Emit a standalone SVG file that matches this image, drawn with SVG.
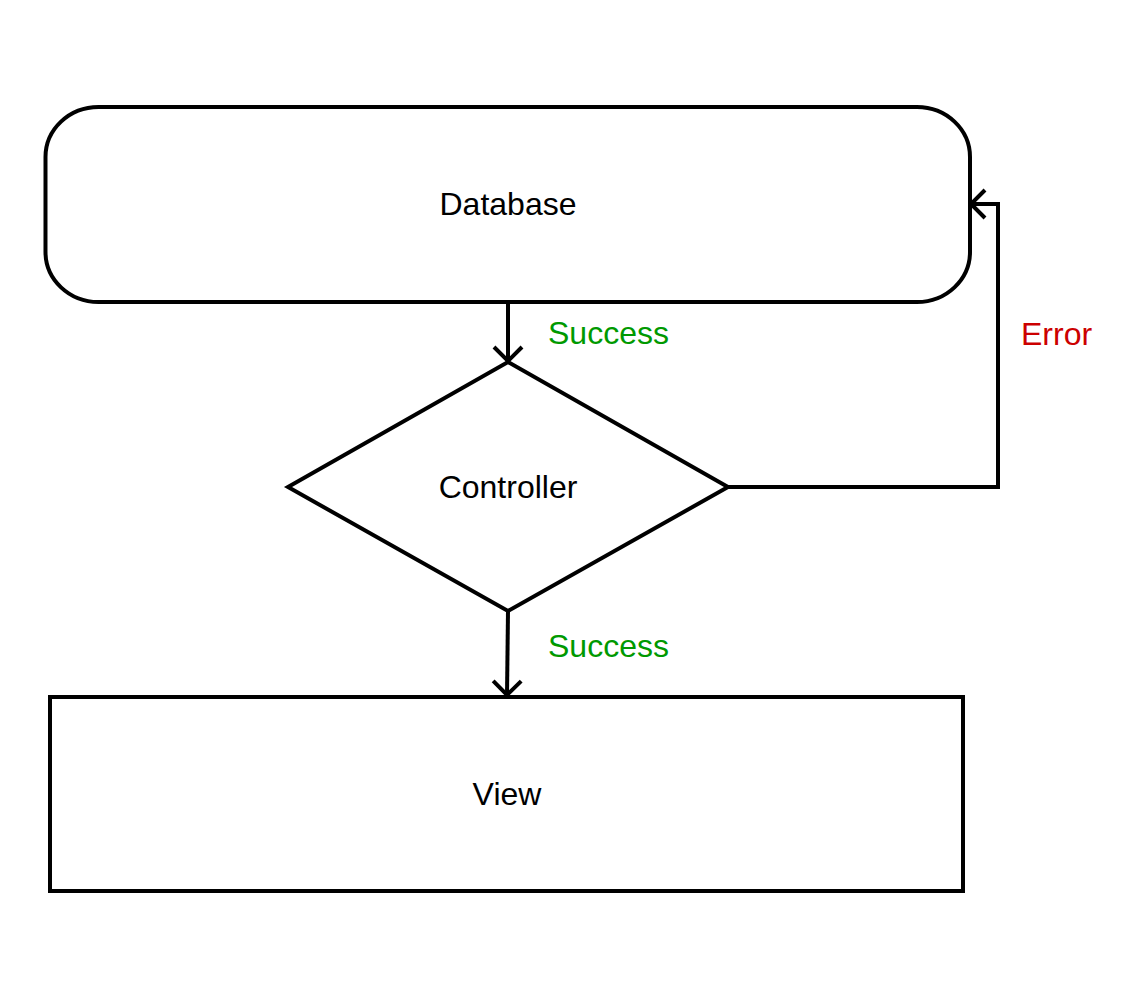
<svg xmlns="http://www.w3.org/2000/svg" width="1138" height="1000" viewBox="0 0 1138 1000">
<style>
.shape{fill:#fff;stroke:#000;stroke-width:4;}
.edge{fill:none;stroke:#000;stroke-width:4;stroke-linejoin:miter;}
.lbl{font-family:"Liberation Sans",Arial,sans-serif;font-size:32px;fill:#000;text-anchor:middle;}
.ok{font-family:"Liberation Sans",Arial,sans-serif;font-size:32px;fill:#009900;}
.err{font-family:"Liberation Sans",Arial,sans-serif;font-size:32px;fill:#CC0000;}
</style>
<defs>
<marker id="open" markerUnits="userSpaceOnUse" viewBox="-20 -20 40 40" markerWidth="40" markerHeight="40" refX="0" refY="0" orient="auto" overflow="visible">
<path d="M-14,-14 L0,0 L-14,14" fill="none" stroke="#000" stroke-width="4"/>
</marker>
</defs>
<rect width="1138" height="1000" fill="#fff"/>
<g id="database">
<rect class="shape" x="45.5" y="107" width="924.5" height="195" rx="53" ry="50"/>
<text class="lbl" x="508" y="215">Database</text>
</g>
<g id="controller">
<polygon class="shape" points="508,362 728,487 508,611 288,487"/>
<text class="lbl" x="508" y="498">Controller</text>
</g>
<g id="view">
<rect class="shape" x="50" y="697" width="913" height="194"/>
<text class="lbl" x="507" y="805">View</text>
</g>
<g id="connectors">
<path class="edge" d="M508,302 L508,361" marker-end="url(#open)"/>
<path class="edge" d="M508,611 L507,695" marker-end="url(#open)"/>
<path class="edge" d="M728,487 L998,487 L998,204 L971,204" marker-end="url(#open)"/>
<text class="ok" x="548" y="344">Success</text>
<text class="ok" x="548" y="657">Success</text>
<text class="err" x="1021" y="345">Error</text>
</g>
</svg>
